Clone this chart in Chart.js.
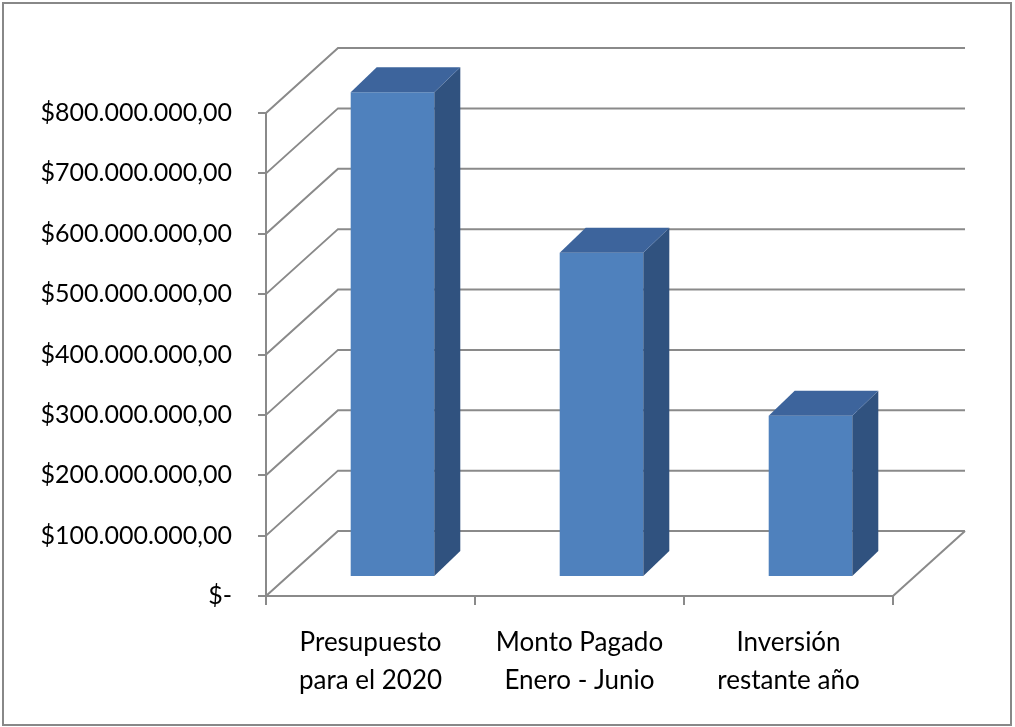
<!DOCTYPE html>
<html>
<head>
<meta charset="utf-8">
<script src="https://cdn.jsdelivr.net/npm/chart.js@4.4.0/dist/chart.umd.min.js"></script>
<style>
  html, body { margin: 0; padding: 0; background: #ffffff; }
  #wrap { width: 1015px; height: 727px; position: relative; }
</style>
</head>
<body>
<div id="wrap"><canvas id="c" width="1015" height="727"></canvas></div>
<script>
const categories = [
  ['Presupuesto', 'para el 2020'],
  ['Monto Pagado', 'Enero - Junio'],
  ['Inversión', 'restante año']
];
const values = [803000000, 537000000, 267000000];
const yMin = 0;
const yMax = 800000000;
const yStep = 100000000;

const FONT = 'Lato, "Open Sans", sans-serif';
const GRID = '#8a8a8a';
const DEPTH_X = 72, DEPTH_Y = -65;      // full depth of the 3D box
const BAR_OFF_X = 22, BAR_OFF_Y = -19;  // bar front plane offset
const BAR_D_X = 26, BAR_D_Y = -25;      // bar depth

function fmt(v) {
  if (v === 0) return '$-';
  const s = Math.round(v).toString().replace(/\B(?=(\d{3})+(?!\d))/g, '.');
  return '$' + s + ',00';
}

const threeD = {
  id: 'threeD',
  beforeDatasetsDraw(chart) {
    const ctx = chart.ctx;
    const ys = chart.scales.y, xs = chart.scales.x;
    const L = xs.left, R = xs.right;
    ctx.save();
    ctx.strokeStyle = GRID;
    ctx.lineWidth = 2;
    ctx.lineJoin = 'miter';
    for (let v = yMin; v <= yMax; v += yStep) {
      const y = ys.getPixelForValue(v);
      ctx.beginPath();
      ctx.moveTo(L, y);
      ctx.lineTo(L + DEPTH_X, y + DEPTH_Y);
      ctx.lineTo(R + DEPTH_X, y + DEPTH_Y);
      ctx.stroke();
    }
    const y0 = ys.getPixelForValue(yMin);
    ctx.beginPath();
    ctx.moveTo(R, y0);
    ctx.lineTo(R + DEPTH_X, y0 + DEPTH_Y);
    ctx.stroke();
    ctx.restore();
    ctx.save();
    ctx.translate(BAR_OFF_X, BAR_OFF_Y);
  },
  afterDatasetsDraw(chart) {
    const ctx = chart.ctx;
    ctx.restore();
    const meta = chart.getDatasetMeta(0);
    ctx.save();
    meta.data.forEach(el => {
      const p = el.getProps(['x', 'y', 'base', 'width'], true);
      const left = p.x - p.width / 2 + BAR_OFF_X;
      const right = p.x + p.width / 2 + BAR_OFF_X;
      const top = p.y + BAR_OFF_Y;
      const bottom = p.base + BAR_OFF_Y;
      // side face
      ctx.fillStyle = '#30527f';
      ctx.beginPath();
      ctx.moveTo(right, top);
      ctx.lineTo(right + BAR_D_X, top + BAR_D_Y);
      ctx.lineTo(right + BAR_D_X, bottom + BAR_D_Y);
      ctx.lineTo(right, bottom);
      ctx.closePath();
      ctx.fill();
      // top face
      ctx.fillStyle = '#3d649c';
      ctx.beginPath();
      ctx.moveTo(left, top);
      ctx.lineTo(left + BAR_D_X, top + BAR_D_Y);
      ctx.lineTo(right + BAR_D_X, top + BAR_D_Y);
      ctx.lineTo(right, top);
      ctx.closePath();
      ctx.fill();
    });
    ctx.restore();
  },
  afterDraw(chart) {
    const ctx = chart.ctx;
    ctx.save();
    ctx.strokeStyle = '#888888';
    ctx.lineWidth = 2;
    ctx.strokeRect(3, 3, 1008, 722);
    ctx.restore();
  }
};

new Chart(document.getElementById('c'), {
  type: 'bar',
  data: {
    labels: categories,
    datasets: [{
      data: values,
      backgroundColor: '#4f81bd',
      borderWidth: 0,
      barPercentage: 0.4,
      categoryPercentage: 1.0,
      clip: false
    }]
  },
  options: {
    responsive: false,
    animation: false,
    devicePixelRatio: 1,
    layout: { padding: { top: 113, right: 122, left: 0, bottom: 0 } },
    plugins: { legend: { display: false }, tooltip: { enabled: false } },
    scales: {
      x: {
        offset: true,
        grid: { offset: true, drawOnChartArea: false, color: GRID, lineWidth: 2, tickLength: 9 },
        border: { color: GRID, width: 2 },
        ticks: { color: '#000', font: { family: FONT, size: 26, lineHeight: 1.48 }, padding: 18, maxRotation: 0, autoSkip: false },
        afterFit(s) { s.height = 131; }
      },
      y: {
        min: yMin, max: yMax,
        grid: { drawOnChartArea: false, color: GRID, lineWidth: 2, tickLength: 8 },
        border: { color: GRID, width: 2 },
        ticks: { stepSize: yStep, color: '#000', font: { family: FONT, size: 25 }, padding: 26, callback: v => fmt(v) },
        afterFit(s) { s.width = 266; }
      }
    }
  },
  plugins: [threeD]
});
</script>
</body>
</html>
